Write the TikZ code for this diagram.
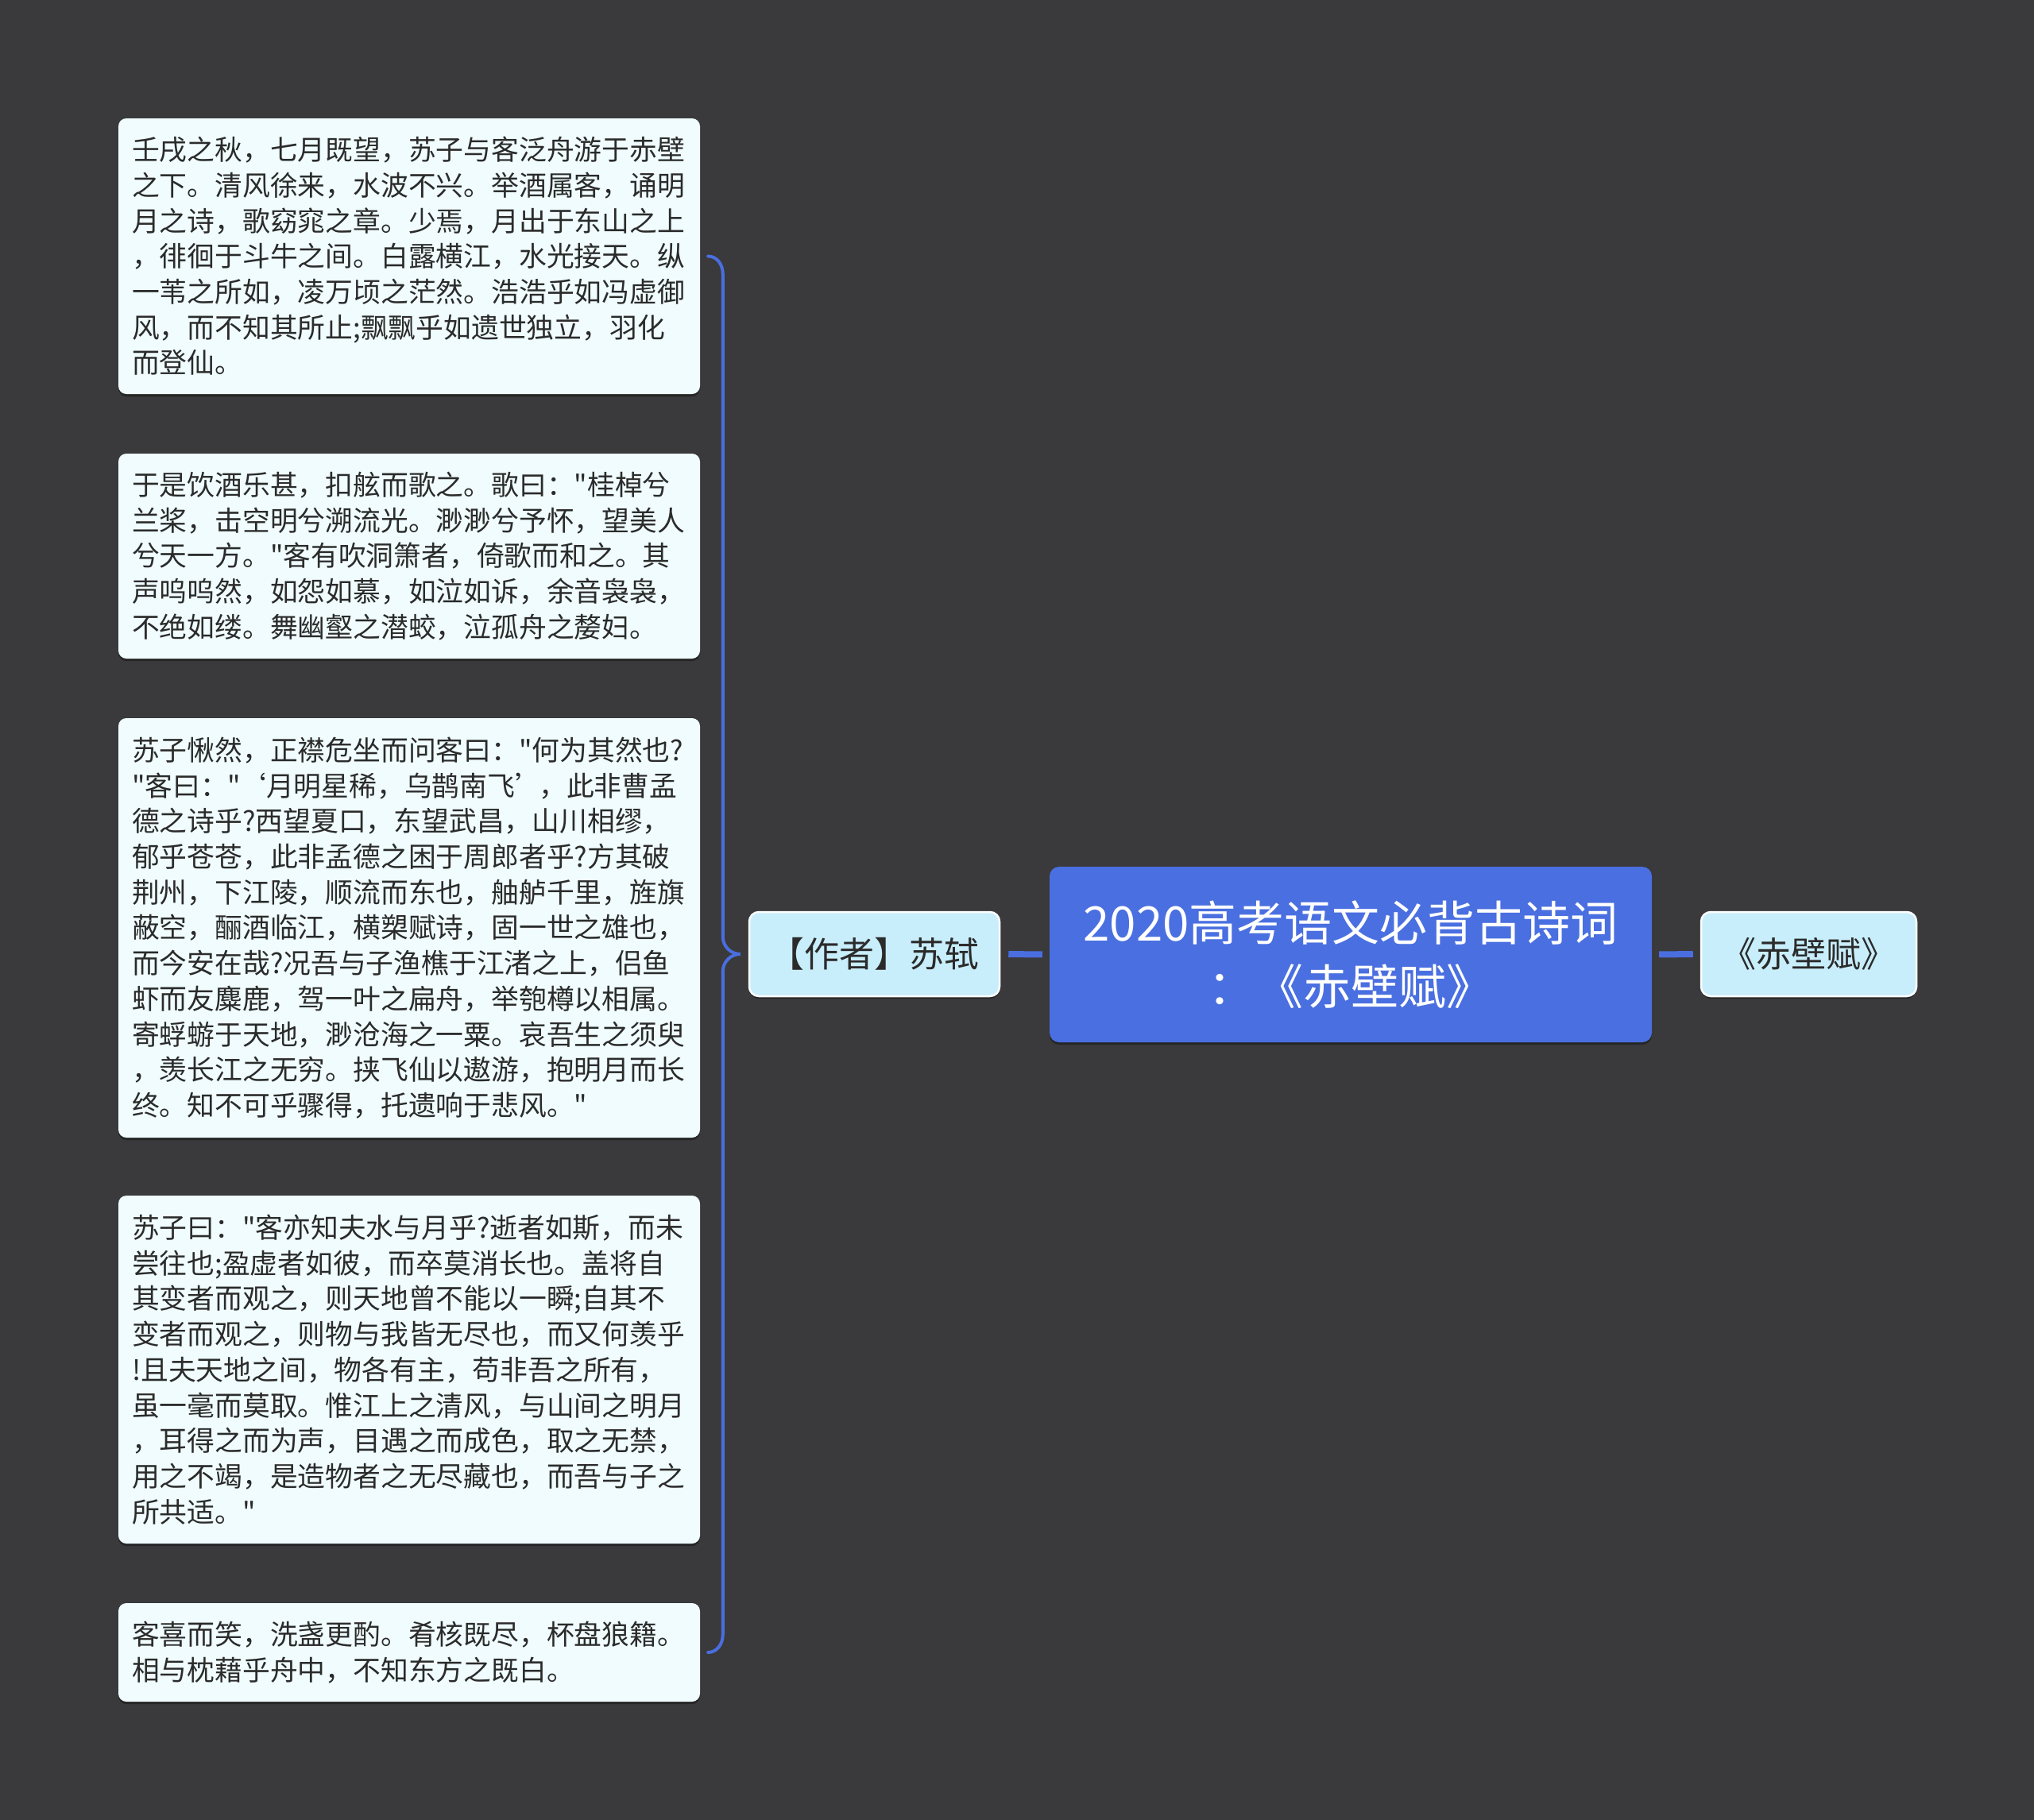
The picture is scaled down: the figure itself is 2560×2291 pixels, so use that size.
\documentclass[tikz,border=0pt]{standalone}
\usepackage{fontspec}
\setmainfont{Noto Sans CJK SC}[Ligatures=TeXOff]
\usetikzlibrary{calc,shadows}
\definecolor{bg}{HTML}{3A393B}
\definecolor{linkblue}{HTML}{4A6EDF}
\definecolor{rootblue}{HTML}{4A6FE0}
\definecolor{sidefill}{HTML}{C9EEFB}
\definecolor{leaffill}{HTML}{F0FCFD}
\definecolor{txt}{HTML}{2B2B2B}
\begin{document}
\begin{tikzpicture}[x=1pt,y=-1pt,
  leaf/.style={rounded corners=10pt, fill=leaffill, text width=698pt, inner xsep=17pt, inner ysep=0pt,
    align=left, text=txt, font=\fontsize{34.8pt}{44.7pt}\selectfont,
    drop shadow={shadow xshift=0pt, shadow yshift=-3pt, fill=black, opacity=0.35}},
  side/.style={rounded corners=12pt, fill=sidefill, draw=white!95!sidefill, line width=2.5pt, minimum height=106pt,
    inner sep=0pt, text=txt, font=\fontsize{44pt}{50pt}\selectfont,
    drop shadow={shadow xshift=0pt, shadow yshift=-3pt, fill=black, opacity=0.35}},
  rootbox/.style={rounded corners=12pt, fill=rootblue, minimum width=758pt, minimum height=221pt, inner sep=0pt,
    align=center, text=white, font=\fontsize{60pt}{80pt}\selectfont,
    drop shadow={shadow xshift=0pt, shadow yshift=-3pt, fill=black, opacity=0.35}},
  link/.style={draw=linkblue, line width=8pt},
  brace/.style={draw=linkblue, line width=4pt, line cap=round}
]
\fill[bg] (0,0) rectangle (2560,2291);
\useasboundingbox (0,0) rectangle (2560,2291);

\node[rootbox] (root) at (1700,1201.5) {2020高考语文必背古诗词\\：《赤壁赋》};
\node[side, minimum width=315pt] (author) at (1100.5,1201) {【作者】苏轼};
\node[side, minimum width=271pt] (title) at (2276.5,1201) {《赤壁赋》};

\node[leaf, minimum height=347pt] (b1) at (515,322.5) {壬戌之秋，七月既望，苏子与客泛舟游于赤壁\\
之下。清风徐来，水波不兴。举酒属客，诵明\\
月之诗，歌窈窕之章。少焉，月出于东山之上\\
，徘徊于斗牛之间。白露横江，水光接天。纵\\
一苇之所如，凌万顷之茫然。浩浩乎如冯虚御\\
风，而不知其所止;飘飘乎如遗世独立，羽化\\
而登仙。};

\node[leaf, minimum height=258pt] (b2) at (515,700) {于是饮酒乐甚，扣舷而歌之。歌曰："桂棹兮\\
兰桨，击空明兮溯流光。渺渺兮予怀，望美人\\
兮天一方。"客有吹洞箫者，倚歌而和之。其\\
声呜呜然，如怨如慕，如泣如诉，余音袅袅，\\
不绝如缕。舞幽壑之潜蛟，泣孤舟之嫠妇。};

\node[leaf, minimum height=528pt] (b3) at (515,1168) {苏子愀然，正襟危坐而问客曰："何为其然也?\\
"客曰："\kern-3pt‘月明星稀，乌鹊南飞’\kern-5pt，此非曹孟\\
德之诗乎?西望夏口，东望武昌，山川相缪，\\
郁乎苍苍，此非孟德之困于周郎者乎?方其破\\
荆州，下江陵，顺流而东也，舳舻千里，旌旗\\
蔽空，酾酒临江，横槊赋诗，固一世之雄也，\\
而今安在哉?况吾与子渔樵于江渚之上，侣鱼\\
虾而友麋鹿，驾一叶之扁舟，举匏樽以相属。\\
寄蜉蝣于天地，渺沧海之一粟。哀吾生之须臾\\
，羡长江之无穷。挟飞仙以遨游，抱明月而长\\
终。知不可乎骤得，托遗响于悲风。"};

\node[leaf, minimum height=438pt] (b4) at (515,1724) {苏子曰："客亦知夫水与月乎?逝者如斯，而未\\
尝往也;盈虚者如彼，而卒莫消长也。盖将自\\
其变者而观之，则天地曾不能以一瞬;自其不\\
变者而观之，则物与我皆无尽也，而又何羡乎\\
!且夫天地之间，物各有主，苟非吾之所有，\\
虽一毫而莫取。惟江上之清风，与山间之明月\\
，耳得之而为声，目遇之而成色，取之无禁，\\
用之不竭，是造物者之无尽藏也，而吾与子之\\
所共适。"};

\node[leaf, minimum height=124pt] (b5) at (515,2080) {客喜而笑，洗盏更酌。肴核既尽，杯盘狼籍。\\
相与枕藉乎舟中，不知东方之既白。};

\draw[link, shorten <=10pt, shorten >=9pt] (author.east) -- (root.west);
\draw[link, shorten <=9pt, shorten >=9pt] (root.east) -- (title.west);

\draw[brace] let \p1=($(author.west)+(-10,0)$), \p2=($(b1.east)+(10,0)$), \p3=($(b5.east)+(10,0)$) in
  (\p2) to[out=0,in=90] (\x1-22pt,\y2-22pt) -- (\x1-22pt,\y1+22pt)
  to[out=-90,in=180] (\p1) to[out=180,in=90] (\x1-22pt,\y1-22pt)
  -- (\x1-22pt,\y3+22pt) to[out=-90,in=0] (\p3);
\end{tikzpicture}
\end{document}
